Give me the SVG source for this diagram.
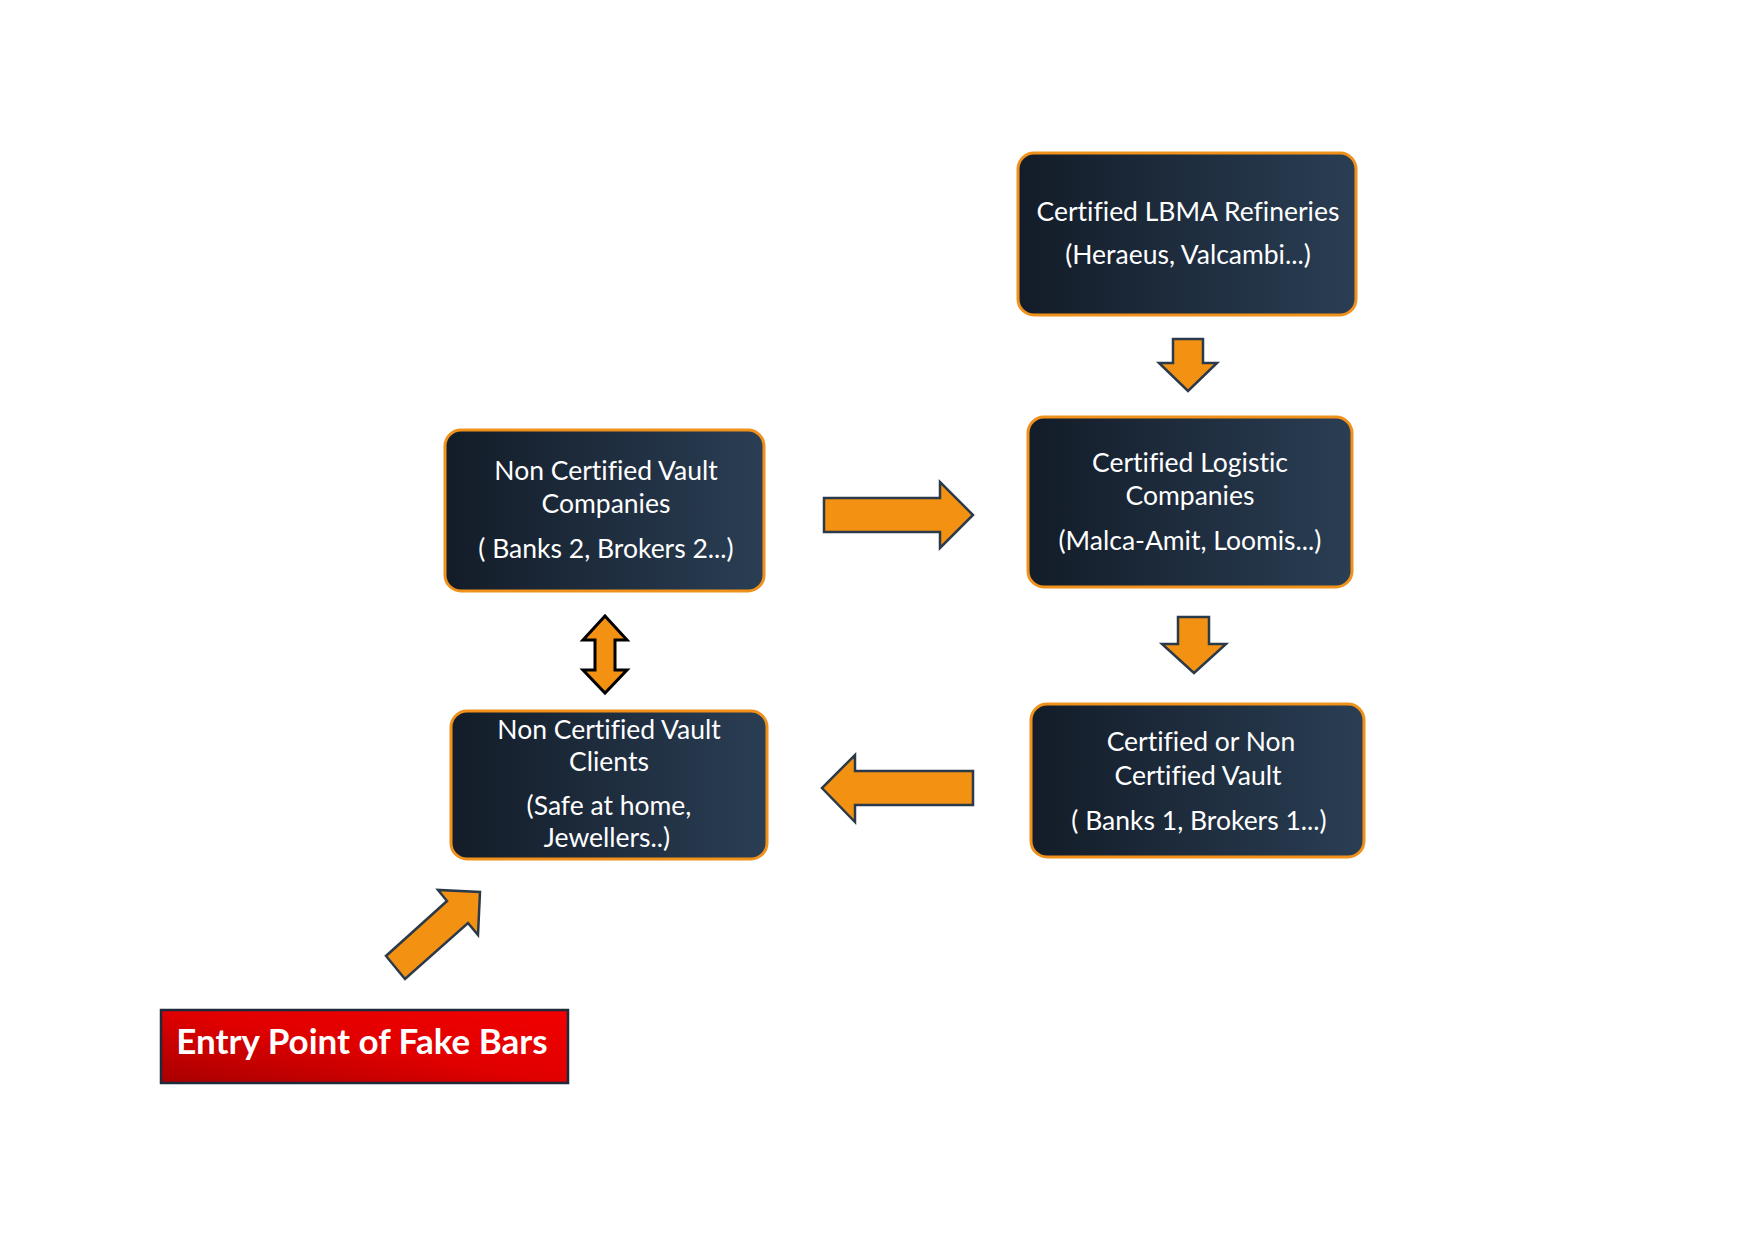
<svg xmlns="http://www.w3.org/2000/svg" width="1754" height="1240" viewBox="0 0 1754 1240">
<defs>
<linearGradient id="boxg" x1="0" y1="0" x2="1" y2="0">
<stop offset="0" stop-color="#131C28"/>
<stop offset="1" stop-color="#2A3E54"/>
</linearGradient>
<linearGradient id="redg" x1="0" y1="1" x2="1" y2="0">
<stop offset="0" stop-color="#A80000"/>
<stop offset="0.5" stop-color="#E00000"/>
<stop offset="1" stop-color="#F20000"/>
</linearGradient>
<style>
.box{fill:url(#boxg);stroke:#F0911C;stroke-width:3}
.t{fill:#FFFFFF;font-family:Lato,"Open Sans",sans-serif;font-size:26.5px;text-anchor:middle;font-variant-ligatures:none}
.arr{fill:#F39212;stroke:#2B3A4A;stroke-width:2.5;stroke-linejoin:miter}
.arrk{fill:#F39212;stroke:#000000;stroke-width:3}
.entry{fill:url(#redg);stroke:#1F2A3A;stroke-width:2.5}
.et{fill:#FFFFFF;font-family:Lato,"Open Sans",sans-serif;font-weight:bold;font-size:35px;text-anchor:middle}
</style>
</defs>
<rect width="1754" height="1240" fill="#FFFFFF"/>
<g id="refineries">
<rect class="box" x="1018" y="153" width="338" height="162" rx="16"/>
<text class="t" x="1188" y="221">Certified LBMA Refineries</text>
<text class="t" x="1188" y="264">(Heraeus, Valcambi...)</text>
</g>
<g id="logistic">
<rect class="box" x="1028" y="417" width="324" height="170" rx="16"/>
<text class="t" x="1190" y="472">Certified Logistic</text>
<text class="t" x="1190" y="505">Companies</text>
<text class="t" x="1190" y="550">(Malca-Amit, Loomis...)</text>
</g>
<g id="noncert-companies">
<rect class="box" x="445" y="430" width="319" height="161" rx="16"/>
<text class="t" x="606" y="480">Non Certified Vault</text>
<text class="t" x="606" y="513">Companies</text>
<text class="t" x="606" y="558">( Banks 2, Brokers 2...)</text>
</g>
<g id="cert-vault">
<rect class="box" x="1031" y="704" width="333" height="153" rx="16"/>
<text class="t" x="1201" y="751">Certified or Non</text>
<text class="t" x="1198" y="785">Certified Vault</text>
<text class="t" x="1199" y="830">( Banks 1, Brokers 1...)</text>
</g>
<g id="clients">
<rect class="box" x="451" y="711" width="316" height="148" rx="16"/>
<text class="t" x="609" y="739">Non Certified Vault</text>
<text class="t" x="609" y="771">Clients</text>
<text class="t" x="609" y="815">(Safe at home,</text>
<text class="t" x="607" y="847">Jewellers..)</text>
</g>
<g id="entry">
<rect class="entry" x="161" y="1010" width="407" height="73"/>
<text class="et" x="362" y="1054">Entry Point of Fake Bars</text>
</g>
<g id="connectors">
<polygon class="arr" points="1173,339 1203,339 1203,363 1217,363 1188,391 1159,363 1173,363"/>
<polygon class="arr" points="1178,617 1209,617 1209,644 1226,644 1194,673 1162,644 1178,644"/>
<polygon class="arr" points="824,498 940,498 940,482 973,515 940,548 940,532 824,532"/>
<polygon class="arr" points="973,771 855,771 855,755 822,788 855,822 855,805 973,805"/>
<polygon class="arrk" points="605,616 627,640 615,640 615,670 627,670 605,693 583,670 595,670 595,640 583,640"/>
<polygon class="arr" points="480,892 478,935 468,923 405,979 386,956 447,901 438,890"/>
</g>
</svg>
